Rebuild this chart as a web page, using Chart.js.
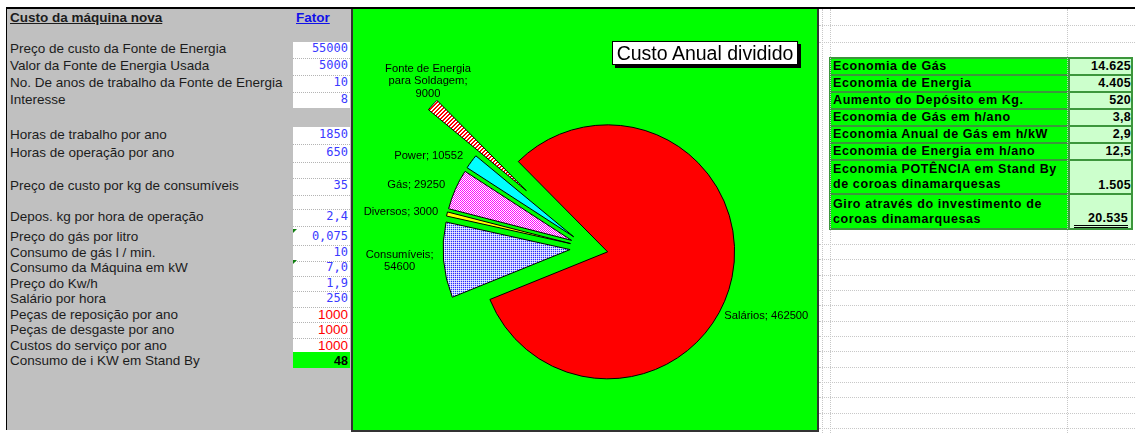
<!doctype html>
<html>

<head>
	<title>Custo Anual dividido</title>
	<meta charset="utf-8" />
	<script src="https://cdn.jsdelivr.net/npm/chart.js@4.4.1/dist/chart.umd.min.js"></script>
	<style>
		body {
			margin: 0;
			width: 1135px;
			height: 433px;
			background: #fff;
			position: relative;
			overflow: hidden;
			font-family: Arial, "Liberation Sans", sans-serif;
		}
		.abs { position: absolute; }
		#topline { left: 6px; top: 7px; width: 1129px; height: 2px; background: #000; }
		#painel { left: 6px; top: 9px; width: 345px; height: 421px; background: #c0c0c0; border-left: 1px solid #000; box-sizing: border-box; }
		#grafico { left: 351px; top: 9px; width: 468px; height: 423px; background: #00ff00; border: 2px solid #333; border-top: 0; box-sizing: border-box; }
		#canvas { left: 353px; top: 9px; }
		.lbl { left: 10px; font-size: 13.5px; color: #1c1c1c; line-height: 16px; white-space: nowrap; }
		.cell { left: 293px; width: 57px; background: #fff; }
		.sep { left: 293px; width: 57px; border-top: 1px dotted #b4b4b4; }
		.val { left: 293px; width: 55px; text-align: right; line-height: 16px; white-space: nowrap; }
		.mono { font: 12px "DejaVu Sans Mono", monospace; color: #3a3aff; }
		.red { font-size: 13.5px; color: #ff0000; }
		.stand { font-weight: bold; font-size: 12.5px; color: #000; }
		.tri { width: 0; height: 0; border-top: 4px solid #108010; border-right: 4px solid transparent; }
		.vgrid { top: 9px; height: 424px; border-left: 1px dotted #c8c8c8; }
		.hgrid { left: 819px; width: 316px; border-top: 1px dotted #c8c8c8; }
		#titulo { left: 612px; top: 41px; width: 186px; height: 24px; background: #fff; border: 1px solid #000; box-shadow: 3px 3px 0 #000; font-size: 19.5px; line-height: 22px; text-align: center; box-sizing: border-box; white-space: nowrap; }
		#economia { left: 829px; top: 57px; border-collapse: collapse; font-weight: bold; font-size: 12.5px; letter-spacing: 0.6px; }
		#economia td { border: 2px solid #3c963c; padding: 0 2px; line-height: 15px; }
		#economia td.nome { background: #00ff00; width: 233px; white-space: pre-line; }
		#economia td.num { background: #ccffcc; width: 59px; text-align: right; vertical-align: bottom; padding-right: 0; letter-spacing: 0.3px; }
		.duplo { display: inline-block; border-bottom: 3px double #000; padding-left: 14px; margin-right: 3px; line-height: 14px; }
	</style>
</head>

<body>
	<div id="topline" class="abs"></div>
	<div id="painel" class="abs"></div>
	<div id="grafico" class="abs"></div>
	<canvas id="canvas" class="abs" width="464" height="421"></canvas>
	<div id="titulo" class="abs">Custo Anual dividido</div>
	<table id="economia" class="abs"></table>

	<script>
		// gráfico: custo anual dividido
		const categories = ['Salários', 'Consumíveis', 'Diversos', 'Gás', 'Power', 'Fonte de Energia para Soldagem'];
		const costs = [462500, 54600, 3000, 29250, 10552, 9000];

		// planilha à esquerda
		const paramLabels = ['Preço de custo da Fonte de Energia', 'Valor da Fonte de Energia Usada',
			'No. De anos de trabalho da Fonte de Energia', 'Interesse', 'Horas de trabalho por ano',
			'Horas de operação por ano', 'Preço de custo por kg de consumíveis', 'Depos. kg por hora de operação',
			'Preço do gás por litro', 'Consumo de gás l / min.', 'Consumo da Máquina em kW', 'Preço do Kw/h',
			'Salário por hora', 'Peças de reposição por ano', 'Peças de desgaste por ano',
			'Custos do serviço por ano', 'Consumo de i KW em Stand By'];
		const paramValues = ['55000', '5000', '10', '8', '1850', '650', '35', '2,4', '0,075', '10', '7,0', '1,9',
			'250', '1000', '1000', '1000', '48'];

		// tabela à direita
		const ecoLabels = ['Economia de Gás', 'Economia de Energia', 'Aumento do Depósito em Kg.',
			'Economia de Gás em h/ano', 'Economia Anual de Gás em h/kW', 'Economia de Energia em h/ano',
			'Economia POTÊNCIA em Stand By\nde coroas dinamarquesas',
			'Giro através do investimento de\ncoroas dinamarquesas'];
		const ecoValues = ['14.625', '4.405', '520', '3,8', '2,9', '12,5', '1.505', '20.535'];

		// layout
		const paramRowY = [49, 66, 83, 100, 135, 153, 186, 217, 237, 253, 268, 283.5, 299, 314.5, 330, 345.5, 361];
		const paramKind = ['mono', 'mono', 'mono', 'mono', 'mono', 'mono', 'mono', 'mono', 'mono', 'mono', 'mono',
			'mono', 'mono', 'red', 'red', 'red', 'stand'];
		const ecoRowH = [17, 17, 17, 17, 17, 17, 34, 35];
		const explode = [19, 19, 19, 19, 19, 85];
		const labelGap = [6, 10, 9, 11, 10, 20];
		const labelTurn = [17, 0, 0, 0, 0, 5.6];
		const labelAlign = ['left', 'right', 'right', 'right', 'right', 'center'];
		const labelWrap = [200, 72, 200, 200, 200, 90];

		function addDiv(cls, css, text) {
			const d = document.createElement('div');
			d.className = 'abs ' + cls;
			Object.assign(d.style, css);
			if (text !== undefined) d.textContent = text;
			document.body.appendChild(d);
			return d;
		}

		function buildSheet() {
			addDiv('lbl', { top: '10px', fontWeight: 'bold', textDecoration: 'underline' }, 'Custo da máquina nova');
			addDiv('lbl', { left: '296px', top: '10px', fontWeight: 'bold', textDecoration: 'underline', color: '#1010e8' }, 'Fator');

			addDiv('cell', { top: '42px', height: '66px' });
			addDiv('cell', { top: '127px', height: '225px' });
			addDiv('cell', { top: '352px', height: '16px', background: '#00ff00' });
			[58, 75, 92, 144, 162, 178, 195, 209, 226, 245, 261, 276, 291, 307, 322, 338].forEach(function (y) {
				addDiv('sep', { top: y + 'px' });
			});
			addDiv('tri', { left: '293px', top: '229px' });
			addDiv('tri', { left: '293px', top: '260px' });

			paramLabels.forEach(function (text, i) {
				const y = paramRowY[i] - 8;
				addDiv('lbl', { top: y + 'px' }, text);
				addDiv('val ' + paramKind[i], { top: y + 'px' }, paramValues[i]);
			});

			// grade da planilha à direita
			[822, 830, 1067].forEach(function (x) {
				addDiv('vgrid', { left: x + 'px' });
			});
			const rows = [25, 42];
			for (let y = 244; y < 433; y += 15.33) rows.push(Math.round(y));
			rows.forEach(function (y) {
				addDiv('hgrid', { top: y + 'px' });
			});

			const table = document.getElementById('economia');
			ecoLabels.forEach(function (text, i) {
				const tr = document.createElement('tr');
				tr.style.height = ecoRowH[i] + 'px';
				const a = document.createElement('td');
				a.className = 'nome';
				a.textContent = text;
				const b = document.createElement('td');
				b.className = 'num';
				if (i === ecoLabels.length - 1) {
					b.innerHTML = '<span class="duplo">' + ecoValues[i] + '</span>';
				} else {
					b.textContent = ecoValues[i];
				}
				tr.appendChild(a);
				tr.appendChild(b);
				table.appendChild(tr);
			});
		}

		function makePattern(size, paint) {
			const c = document.createElement('canvas');
			c.width = size;
			c.height = size;
			const g = c.getContext('2d');
			for (let x = 0; x < size; x++) {
				for (let y = 0; y < size; y++) {
					g.fillStyle = paint(x, y);
					g.fillRect(x, y, 1, 1);
				}
			}
			return g.createPattern(c, 'repeat');
		}

		function wrapText(ctx, text, maxWidth) {
			const words = text.split(' ');
			const lines = [];
			let line = '';
			words.forEach(function (w) {
				const test = line ? line + ' ' + w : w;
				if (line && ctx.measureText(test).width > maxWidth) {
					lines.push(line);
					line = w;
				} else {
					line = test;
				}
			});
			lines.push(line);
			return lines;
		}

		const explodeSlices = {
			id: 'explodeSlices',
			beforeDatasetsDraw(chart) {
				const area = chart.chartArea;
				const cx = (area.left + area.right) / 2;
				const cy = (area.top + area.bottom) / 2;
				chart.getDatasetMeta(0).data.forEach(function (arc, i) {
					const mid = (arc.startAngle + arc.endAngle) / 2;
					arc.x = cx + Math.cos(mid) * explode[i];
					arc.y = cy + Math.sin(mid) * explode[i];
				});
			}
		};

		// rótulos no estilo do Excel: bloco encostado no ponto, linhas centradas
		const sliceLabels = {
			id: 'sliceLabels',
			afterDatasetsDraw(chart) {
				const ctx = chart.ctx;
				const ds = chart.data.datasets[0];
				ctx.save();
				ctx.font = '11.2px Arial, "Liberation Sans", sans-serif';
				ctx.fillStyle = '#000';
				ctx.textBaseline = 'middle';
				ctx.textAlign = 'center';
				chart.getDatasetMeta(0).data.forEach(function (arc, i) {
					const ang = (arc.startAngle + arc.endAngle) / 2 + labelTurn[i] * Math.PI / 180;
					const d = arc.outerRadius + labelGap[i];
					let x = arc.x + Math.cos(ang) * d;
					const y = arc.y + Math.sin(ang) * d;
					const lines = wrapText(ctx, chart.data.labels[i] + '; ' + ds.data[i], labelWrap[i]);
					const w = Math.max.apply(null, lines.map(function (l) { return ctx.measureText(l).width; }));
					if (labelAlign[i] === 'right') x -= w / 2;
					if (labelAlign[i] === 'left') x += w / 2;
					lines.forEach(function (line, k) {
						ctx.fillText(line, x, y + (k - (lines.length - 1) / 2) * 12.5);
					});
				});
				ctx.restore();
			}
		};

		function plotChart() {
			const stripes = makePattern(4, function (x, y) { return (x + y) % 4 < 2 ? '#ff0000' : '#ffffff'; });
			const checker = makePattern(2, function (x, y) { return (x + y) % 2 === 0 ? '#ff00ff' : '#ffffff'; });
			const dots = makePattern(2, function (x, y) {
				if (x === 0 && y === 0) return '#2a2aff';
				if (x === 1 && y === 1) return '#eeeeff';
				return '#c4c4ff';
			});

			const config = {
				type: 'pie',
				data: {
					labels: categories,
					datasets: [{
						data: costs,
						backgroundColor: ['#ff0000', dots, '#ffff00', checker, '#00ffff', stripes],
						borderColor: '#000',
						borderWidth: 1,
						clip: false
					}]
				},
				options: {
					responsive: false,
					animation: false,
					events: [],
					rotation: -44.7,
					radius: 127,
					layout: { padding: { left: 8, top: 57, right: 0, bottom: 0 } },
					plugins: {
						legend: { display: false },
						tooltip: { enabled: false }
					}
				},
				plugins: [explodeSlices, sliceLabels]
			};

			window.myPie = new Chart(document.getElementById('canvas'), config);
		}

		buildSheet();
		plotChart();
	</script>
</body>

</html>
